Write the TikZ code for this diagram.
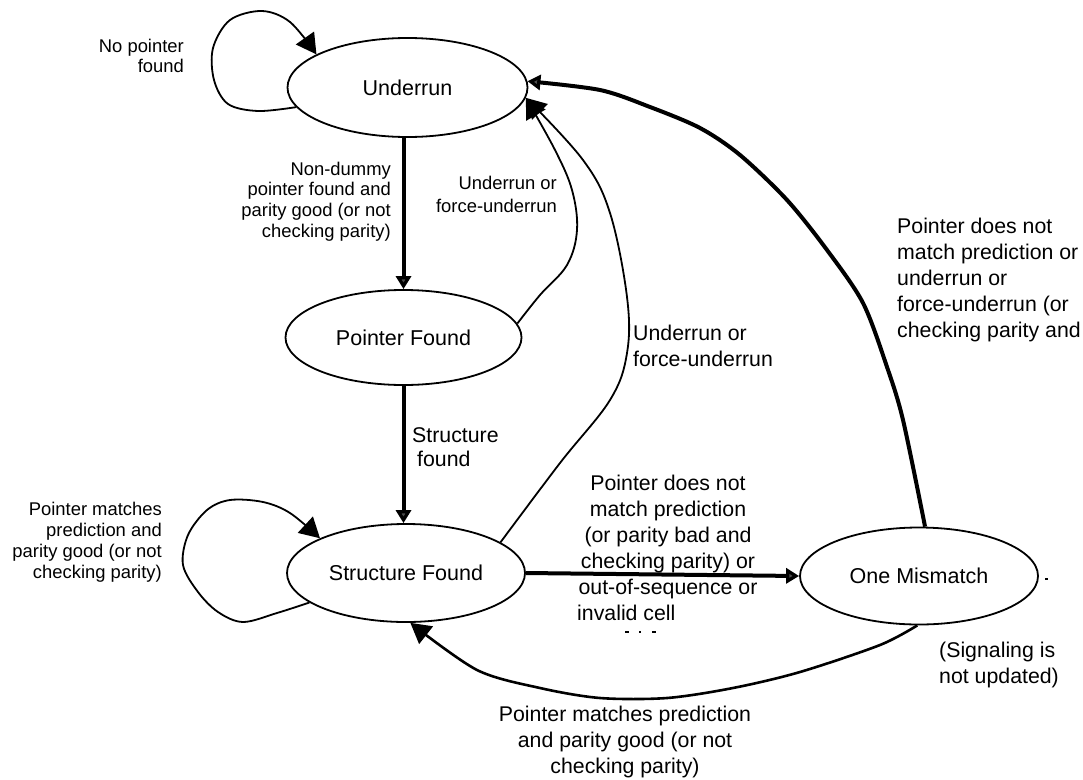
\documentclass[tikz,border=0pt]{standalone}
\usepackage{fontspec}
\setmainfont{Liberation Sans}
\usetikzlibrary{shapes.geometric,arrows.meta}
\tikzset{
  stnode/.style={ellipse, draw, line width=1.8pt, inner sep=0pt, font=\fontsize{21.5}{26}\selectfont},
  lbl/.style={inner sep=0pt, font=\fontsize{21.3}{26}\selectfont},
  slbl/.style={inner sep=0pt, font=\fontsize{18.4}{21}\selectfont},
  thinarr/.style={line width=1.8pt, -{Triangle[length=20pt,width=22pt]}},
  thickarr/.style={line width=4pt, -{Triangle[length=13pt,width=15pt,fill=black!70]}},
  backarr/.style={line width=2.6pt, -{Triangle[length=20pt,width=22pt]}},
}
\newcommand\labellines[6]{%
  \foreach \t [count=\i from 0] in {#6}{%
    \node[#2, name=#1\i] at (#3, {#4+\i*#5}) {\t};}}
\begin{document}
\begin{tikzpicture}[x=1pt,y=-1pt]
\useasboundingbox (0,0) rectangle (1083,779);
% states
\node[stnode, minimum width=240pt, minimum height=99pt] (U) at (407.5,87.5) {Underrun};
\node[stnode, minimum width=236pt, minimum height=95pt] (P) at (403.5,337.5) {Pointer Found};
\node[stnode, minimum width=238pt, minimum height=98pt] (S) at (406,573) {Structure Found};
\node[stnode, minimum width=238pt, minimum height=97pt] (M) at (919,576) {One Mismatch};
% straight transitions
\draw[thickarr] (P.north |- U.south) -- (P.north);
\draw[thickarr] (P.south) -- (P.south |- S.north);
\draw[thickarr] (S.east) -- (M.west);
% self loops
\draw[thinarr] plot[smooth, tension=0.55] coordinates {(U.190) (258,111) (228,104) (214,80) (213,48) (230,20) (262,11) (290,22) (U.160)};
\draw[thinarr] plot[smooth, tension=0.55] coordinates {(S.197) (277,613) (243,622) (218,612) (198,592) (183,565) (188,535) (207,510) (230,500) (263,502) (290,513) (S.158)};
% back to Underrun
\draw[thinarr] plot[smooth, tension=0.6] coordinates {(P.7) (540,295) (567,265) (577,230) (572,190) (555,150) (U.355)};
\draw[thinarr] plot[smooth, tension=0.6] coordinates {(S.18) (560,463) (610,400) (627,353) (627,297) (610,213) (583,160) (U.355)};
\draw[thickarr] plot[smooth, tension=0.5] coordinates {(M.83) (903,420) (887,367) (863,303) (827,250) (787,200) (740,155) (700,128) (650,107) (600,90) (U.3)};
% back to Structure Found
\draw[backarr] plot[smooth, tension=0.5] coordinates {(M.268) (880,645) (800,672) (733,688) (667,698) (600,698) (540,688) (477,670) (S.275)};
% labels
\labellines{np}{slbl, anchor=base east}{184}{52}{20.5}{No pointer, found}
\labellines{nd}{slbl, anchor=base east}{391}{175}{20.7}{Non-dummy, pointer found and, parity good (or not, checking parity)}
\labellines{uf}{slbl, anchor=base east}{557}{189}{23}{Underrun or, force-underrun}
\labellines{ug}{lbl, anchor=base west}{633}{340}{26.5}{Underrun or, force-underrun}
\labellines{sf}{lbl, anchor=base west}{412}{442}{24.5}{Structure, \hspace*{5pt}found}
\labellines{pm}{slbl, anchor=base east}{162}{515}{21}{Pointer matches, prediction and, parity good (or not, checking parity)}
\labellines{pd}{lbl, anchor=base}{668}{490}{26}{Pointer does not, match prediction, {(or parity bad and}, checking parity) or, out-of-sequence or}
\node[lbl, anchor=base west] (ic) at (577,620) {invalid cell};
\labellines{rt}{lbl, anchor=base west}{897}{233}{26}{Pointer does not, match prediction or, underrun or, force-underrun (or, checking parity and}
\labellines{sg}{lbl, anchor=base west}{939}{657}{26}{{(Signaling is}, not updated)}
\labellines{bt}{lbl, anchor=base}{625}{721}{26.3}{Pointer matches prediction, and parity good (or not, checking parity)}
% clipped remnants
\fill (625,631) rectangle (629,633);
\fill (639,631) rectangle (641,633);
\fill (652,631) rectangle (656,633);
\fill (1045,578) rectangle (1048,580);
\end{tikzpicture}
\end{document}
